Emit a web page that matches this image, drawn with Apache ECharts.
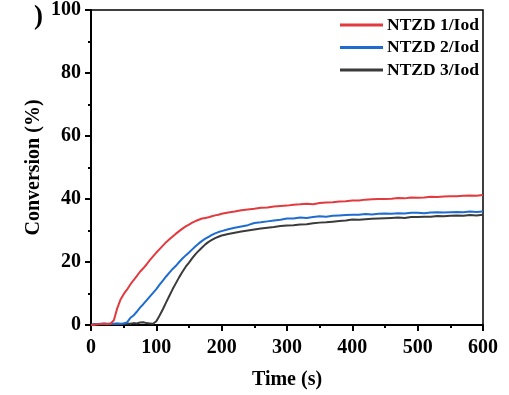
<!DOCTYPE html>
<html>
<head>
<meta charset="utf-8">
<script src="https://cdn.jsdelivr.net/npm/echarts@6/dist/echarts.min.js"></script>
<style>
html,body{margin:0;padding:0;background:#fff;}
#chart{width:509px;height:395px;}
</style>
</head>
<body>
<div id="chart"></div>
<script>
var seriesNames = ['NTZD 1/Iod', 'NTZD 2/Iod', 'NTZD 3/Iod'];
var xTicks = [0, 100, 200, 300, 400, 500, 600];
var yTicks = [0, 20, 40, 60, 80, 100];

var time = [0,5,10,15,20,25,30,35,40,45,50,55,60,65,70,75,80,85,90,95,100,105,110,115,120,125,130,135,140,145,150,155,160,165,170,175,180,185,190,195,200,
210,220,230,240,250,260,270,280,290,300,310,320,330,340,350,360,370,380,390,400,410,420,430,440,450,460,470,480,490,500,510,520,530,540,550,560,570,580,590,600];

var ntzd1 = [0,0.1,0.2,0.3,0.4,0.3,0.4,1.5,5.2,8.0,9.8,11.2,12.8,14.2,15.5,16.9,18.0,19.2,20.6,21.8,23.0,24.1,25.2,26.3,27.2,28.1,29.0,29.8,30.6,31.3,31.9,32.5,33.0,33.4,33.8,34.0,34.2,34.5,34.8,35.0,35.3,
35.7,36.0,36.4,36.7,36.9,37.2,37.3,37.6,37.8,37.9,38.2,38.3,38.5,38.3,38.7,38.9,39.0,39.2,39.3,39.5,39.5,39.8,39.9,40.0,40.0,40.1,40.3,40.2,40.5,40.4,40.5,40.7,40.6,40.8,40.9,40.9,41.0,41.1,41.0,41.3];

var ntzd2 = [0,0.2,0.3,0.4,0.5,0.4,0.5,0.4,0.5,0.4,0.5,0.8,2.2,3.0,4.2,5.5,6.6,7.8,9.0,10.2,11.4,12.8,14.1,15.4,16.6,17.8,18.8,20.0,21.1,22.1,23.0,24.0,25.0,25.9,26.7,27.4,28.0,28.6,29.1,29.5,29.8,
30.4,30.9,31.3,31.7,32.4,32.6,32.9,33.2,33.4,33.8,33.8,34.1,34.0,34.3,34.5,34.4,34.7,34.8,34.9,35.0,35.0,35.2,35.1,35.3,35.4,35.3,35.5,35.4,35.6,35.6,35.5,35.7,35.8,35.7,35.8,35.9,35.8,36.0,35.9,36.0];

var ntzd3 = [0.1,0.2,0.2,0.3,0.3,0.2,0.3,0.3,0.4,0.3,0.4,0.5,0.4,0.6,0.5,0.8,0.9,0.6,0.5,0.4,1.2,3.0,5.0,7.2,9.3,11.4,13.3,15.2,16.9,18.5,19.8,21.2,22.5,23.6,24.6,25.6,26.4,27.0,27.6,28.0,28.4,
28.9,29.3,29.7,30.0,30.3,30.6,30.9,31.1,31.4,31.6,31.7,31.9,32.0,32.3,32.5,32.6,32.8,33.0,33.2,33.5,33.4,33.6,33.7,33.8,33.9,34.0,34.1,34.0,34.3,34.3,34.4,34.4,34.6,34.5,34.7,34.8,34.7,34.9,34.8,35.0];

var colors = ['#e23a3f', '#1f6cd0', '#3b3b3b'];
var FONT = "'Liberation Serif', 'Times New Roman', serif";

function pairs(vals) {
  return time.map(function (t, i) { return [t, vals[i]]; });
}

var chart = echarts.init(document.getElementById('chart'), null, {renderer: 'canvas'});

var axisCommon = {
  axisLine: {show: true, onZero: false, lineStyle: {color: '#000', width: 2}},
  axisTick: {show: true, inside: false, length: 6, lineStyle: {color: '#000', width: 2}},
  minorTick: {show: true, splitNumber: 2, length: 3, lineStyle: {color: '#000', width: 2}},
  splitLine: {show: false},
  minorSplitLine: {show: false},
  nameMoveOverlap: false,
  axisLabel: {color: '#000', fontFamily: FONT, fontWeight: 'bold', fontSize: 20},
  nameTextStyle: {color: '#000', fontFamily: FONT, fontWeight: 'bold', fontSize: 20}
};

var option = {
  animation: false,
  backgroundColor: '#fff',
  color: colors,
  grid: {left: 91, right: 26, top: 9, bottom: 69, show: true, borderColor: '#000', borderWidth: 1.5, backgroundColor: 'transparent'},
  legend: {
    orient: 'vertical',
    left: 340,
    top: 16,
    padding: 0,
    itemWidth: 43,
    itemHeight: 3,
    itemGap: 4.5,
    icon: 'rect',
    data: seriesNames,
    textStyle: {color: '#000', fontFamily: FONT, fontWeight: 'bold', fontSize: 17.5, lineHeight: 18, padding: [0, 0, 0, -1]}
  },
  xAxis: Object.assign({}, axisCommon, {
    type: 'value',
    min: xTicks[0],
    max: xTicks[xTicks.length - 1],
    interval: xTicks[1] - xTicks[0],
    name: 'Time (s)',
    nameLocation: 'middle',
    nameGap: 45,
    axisLabel: Object.assign({}, axisCommon.axisLabel, {margin: 13})
  }),
  yAxis: Object.assign({}, axisCommon, {
    type: 'value',
    min: yTicks[0],
    max: yTicks[yTicks.length - 1],
    interval: yTicks[1] - yTicks[0],
    name: 'Conversion (%)',
    nameLocation: 'middle',
    nameGap: 47,
    axisLabel: Object.assign({}, axisCommon.axisLabel, {margin: 10})
  }),
  graphic: [{
    type: 'text',
    left: 34,
    top: 4,
    style: {text: ')', fill: '#000', font: 'bold 27px ' + FONT}
  }],
  series: seriesNames.map(function (n, i) {
    return {
      name: n,
      type: 'line',
      data: pairs([ntzd1, ntzd2, ntzd3][i]),
      showSymbol: false,
      symbol: 'none',
      lineStyle: {width: 2, color: colors[i]},
      itemStyle: {color: colors[i]},
      z: 3 - i
    };
  })
};
chart.setOption(option);
</script>
</body>
</html>
